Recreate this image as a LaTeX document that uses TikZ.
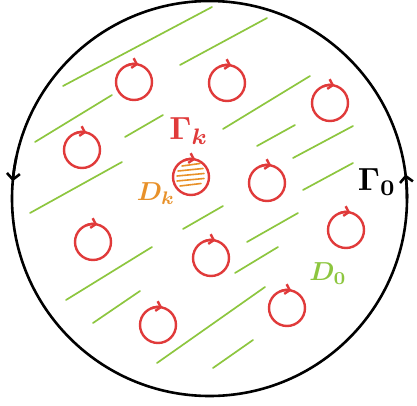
\documentclass[tikz,border=0pt]{standalone}
\usepackage{tikz}
\usetikzlibrary{arrows.meta,calc}
\definecolor{vortred}{HTML}{E03A3A}
\definecolor{domgreen}{HTML}{8DC63F}
\definecolor{domorange}{HTML}{E8912A}
\newcommand{\biglabel}[1]{\scalebox{3.2}{\boldmath$#1$}}
\newcommand{\smalllabel}[1]{\scalebox{2.6}{\boldmath$#1$}}
\tikzset{
  boundary/.style={draw=black, line width=2.6pt},
  bndarrow/.style={-{Straight Barb[length=6pt, width=13pt, line width=2.6pt]}, draw=black, line width=2.6pt},
  hole/.style={circle, draw=vortred, line width=2.4pt, minimum size=36pt, inner sep=0pt},
  holearrow/.style={-{Straight Barb[length=4.5pt, width=10pt, line width=2.4pt]}, draw=vortred, line width=2.4pt},
  hatch/.style={draw=domgreen, line width=1.7pt, line cap=round},
  innerhatch/.style={draw=domorange, line width=1.6pt, line cap=round},
  lbl/.style={inner sep=0pt}
}
\begin{document}
\begin{tikzpicture}[x=1pt, y=1pt]
  \useasboundingbox (0,0) rectangle (417,405);
  % outer boundary
  \coordinate (o) at (209.5,206.5);
  \draw[boundary] (o) circle[radius=197.5];
  \draw[bndarrow] (o) ++(168:197.5) arc[start angle=168, end angle=175, radius=197.5];
  \draw[bndarrow] (o) ++(0:197.5) arc[start angle=0, end angle=7, radius=197.5];
  % shading of the domain
  \foreach \xa/\ya/\xb/\yb in {63/319/212/398, 180/340/267/387, 35/263/112/310,
      125/268/163/290, 223/276/310/329, 257/259/295/280, 293/247/353/279,
      303/215/353/242, 30/192/122/243, 183/176/223/199, 247/163/298/192,
      235/132/278/158, 66/105/152/158, 93/82/140/114, 157/42/265/118,
      213/37/253/65}
    \draw[hatch] (\xa,\ya) -- (\xb,\yb);
  % holes
  \foreach \name/\px/\py in {h1/134/323, h2/227/322, h3/330/302, h4/82/255,
      hk/191/228, h6/267/222, h7/93/163, h8/211/147, h9/346/175,
      h10/158/80, h11/287/97}
  {
    \node[hole] (\name) at (\px,\py) {};
    \draw[holearrow] (\name.center) ++(112:18) arc[start angle=112, end angle=76, radius=18];
  }
  % hatching of D_k
  \foreach \xa/\ya/\xb in {-9/11/9, -13/6/12, -14/1/13, -14/-4/13, -11/-9/10}
    \draw[innerhatch] ($(hk.center)+(\xa,\ya)$) -- ($(hk.center)+(\xb,\ya+2.5)$);
  % labels
  \node[lbl, text=vortred] (gk) at (189,274) {\biglabel{\Gamma_k}};
  \node[lbl, text=domorange] (dk) at (156,211) {\smalllabel{D_k}};
  \node[lbl] (g0) at (377,223) {\biglabel{\Gamma_0}};
  \node[lbl, text=domgreen] (d0) at (328,131) {\smalllabel{D_0}};
\end{tikzpicture}
\end{document}
